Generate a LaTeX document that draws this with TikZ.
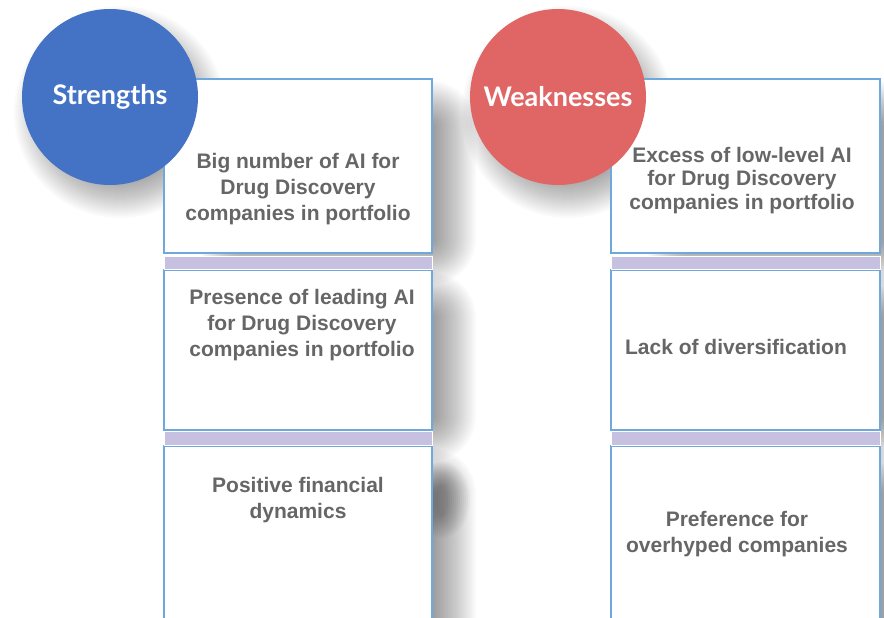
\documentclass[tikz,border=0pt]{standalone}
\usepackage{fontspec}
\setmainfont{Liberation Sans}
\newfontfamily\circfont{Lato}
\definecolor{bluec}{HTML}{4472C4}
\definecolor{redc}{HTML}{E06666}
\definecolor{edgec}{HTML}{6FA8DC}
\definecolor{barc}{HTML}{C6C1E0}
\definecolor{txtc}{HTML}{666666}
\tikzset{
  card/.style={draw=edgec, line width=1.3pt, fill=white},
  bar/.style={draw=white, line width=0.8pt, fill=barc},
  circ/.style={circle, minimum size=176pt, inner sep=0pt, text=white,
     font=\circfont\bfseries\fontsize{27}{30}\selectfont},
  lbl/.style={text=txtc, align=center, inner sep=0pt,
     font=\bfseries\fontsize{21}{26}\selectfont},
  sh/.style={fill=black, fill opacity=0.021}
}
% shadow core: left edge well inside the card, right edge just past it
\newcommand{\boxshadow}[4]{%
  \foreach \i in {0,2,...,46}{%
    \fill[sh, rounded corners=\i pt] (#1+80-\i,#2+48-\i) rectangle (#3-2+\i,#4-14+\i);}}
\newcommand{\circshadow}[3]{%
  \foreach \i in {0,2,...,36}{%
    \fill[sh] (#1,#2) circle[radius=#3+\i-18];}}
\begin{document}
\begin{tikzpicture}[x=1pt,y=-1pt]
\clip (0,0) rectangle (884,618);
\fill[white] (0,0) rectangle (884,618);
% shadows
\boxshadow{164}{79}{432}{253}
\boxshadow{164}{270}{432}{430}
\boxshadow{164}{446}{432}{640}
\boxshadow{611}{79}{880}{253}
\boxshadow{611}{270}{880}{430}
\boxshadow{611}{446}{880}{640}
\foreach \i in {0,2,...,22}{\fill[sh, fill opacity=0.025] (442,500) ellipse[x radius=6+\i, y radius=16+\i];}
\circshadow{120}{112}{88}
\circshadow{568}{112}{88}
% left column
\path[card] (164,79) rectangle (432,253);
\path[card] (164,270) rectangle (432,430);
\path[card] (164,446) rectangle (432,640);
\path[bar] (164,256) rectangle (432,269);
\path[bar] (164,431) rectangle (432,445);
% right column
\path[card] (611,79) rectangle (880,253);
\path[card] (611,270) rectangle (880,430);
\path[card] (611,446) rectangle (880,640);
\path[bar] (611,256) rectangle (880,269);
\path[bar] (611,431) rectangle (880,445);
% circles
\node[circ, fill=bluec] (s) at (110,97) {Strengths};
\node[circ, fill=redc] (w) at (558,97) {Weaknesses};
% texts
\node[lbl] (t1) at (298,189) {Big number of AI for\\Drug Discovery\\companies in portfolio};
\node[lbl] (t2) at (302,325) {Presence of leading AI\\for Drug Discovery\\companies in portfolio};
\node[lbl] (t3) at (298,500) {Positive financial\\dynamics};
\node[lbl, font=\bfseries\fontsize{21}{23.5}\selectfont] (u1) at (742,180.5) {Excess of low-level AI\\for Drug Discovery\\companies in portfolio};
\node[lbl] (u2) at (736,347) {Lack of diversification};
\node[lbl] (u3) at (737,534) {Preference for\\overhyped companies};
\end{tikzpicture}
\end{document}
